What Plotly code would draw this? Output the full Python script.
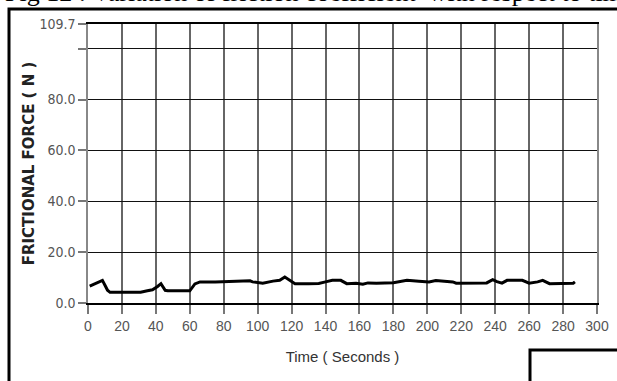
import plotly.graph_objects as go

# ---- data ----
time_s = [1, 4, 8.5, 10, 11.5, 13, 20, 31, 35, 38, 41, 43, 45.5, 47, 55, 60, 63, 66, 75, 80,
          90, 95.5, 97, 103, 109, 113, 116, 119, 122, 130, 136, 140, 144, 149, 152.5, 158, 162,
          165, 170, 180, 188, 195, 201, 205, 210, 215, 217, 225, 235, 238.5, 241, 244, 247,
          256, 260, 265, 268, 272, 280, 286, 287]
force_n = [6.6, 7.4, 8.9, 7.0, 5.0, 4.2, 4.1, 4.2, 4.8, 5.2, 6.5, 7.6, 5.0, 4.8, 4.8, 4.8, 7.5,
           8.3, 8.3, 8.4, 8.3, 8.7, 8.3, 7.8, 8.6, 8.9, 10.2, 9.0, 7.6, 7.6, 7.7, 8.3, 8.9, 8.9,
           7.6, 7.8, 7.4, 7.9, 7.8, 8.0, 8.9, 8.6, 8.3, 8.8, 8.5, 8.3, 7.8, 7.8, 7.9, 9.2, 8.4,
           7.8, 8.9, 8.9, 7.8, 8.3, 8.9, 7.6, 7.6, 7.8, 8.3]

x_ticks = list(range(0, 301, 20))
y_tickvals = [0, 20, 40, 60, 80, 100, 109.7]
y_ticktext = ["0.0", "20.0", "40.0", "60.0", "80.0", "", "109.7"]

caption = "Fig 12 : Variation of friction coefficient  with respect to time"
x_title = "Time ( Seconds )"
y_title = "FRICTIONAL FORCE ( N )"

W, H = 617, 381
L, R, T, B = 88, 20, 24, 78
pw, ph = W - L - R, H - T - B


def px_x(p):
    return (p - L) / pw


def px_y(p):
    return (H - B - p) / ph


cond = "DejaVu Sans Condensed, sans-serif"
narrow = "Liberation Sans Narrow, Liberation Sans, sans-serif"

fig = go.Figure()
fig.add_trace(go.Scatter(x=time_s, y=force_n, mode="lines",
                         line=dict(color="black", width=3), hoverinfo="skip"))

fig.update_layout(
    width=W, height=H,
    margin=dict(l=L, r=R, t=T, b=B, autoexpand=False),
    paper_bgcolor="white", plot_bgcolor="white",
    showlegend=False,
    xaxis=dict(range=[0, 300], tickvals=x_ticks, ticks="outside", ticklen=9,
               tickcolor="#777", tickwidth=1.5, automargin=False,
               showgrid=True, gridcolor="#666", gridwidth=2,
               showline=True, linecolor="black", linewidth=1.5, mirror=True,
               zeroline=False,
               tickfont=dict(family=narrow, size=14, color="#555"),
               title=dict(text=x_title, font=dict(family=narrow, size=15, color="#333"),
                          standoff=19)),
    yaxis=dict(range=[0, 109.7], tickvals=y_tickvals, ticktext=y_ticktext,
               ticks="outside", ticklen=8, tickcolor="#777", tickwidth=1.5,
               automargin=False,
               showgrid=True, gridcolor="#111", gridwidth=1,
               showline=True, linecolor="#888", linewidth=1.5, mirror=True,
               zeroline=False,
               tickfont=dict(family=cond, size=14, color="#555"),
               title=dict(text=y_title,
                          font=dict(family="DejaVu Sans", size=15, color="#222", weight="bold"),
                          standoff=1)),
    shapes=[
        dict(type="rect", xref="paper", yref="paper",
             x0=px_x(9), x1=px_x(630), y0=px_y(400), y1=px_y(9),
             line=dict(color="black", width=3), layer="below"),
        dict(type="rect", xref="paper", yref="paper",
             x0=px_x(530), x1=px_x(630), y0=px_y(400), y1=px_y(350),
             line=dict(color="black", width=3)),
    ],
    annotations=[
        dict(text=caption, xref="paper", yref="paper", x=px_x(3), y=px_y(9),
             xanchor="left", yanchor="bottom", showarrow=False,
             font=dict(family="Liberation Serif, Times New Roman, serif", size=26, color="black")),
    ],
)

fig.write_html("out.html", config={"displayModeBar": False},
               post_script="document.body.style.margin='0';document.body.style.overflow='hidden';")
